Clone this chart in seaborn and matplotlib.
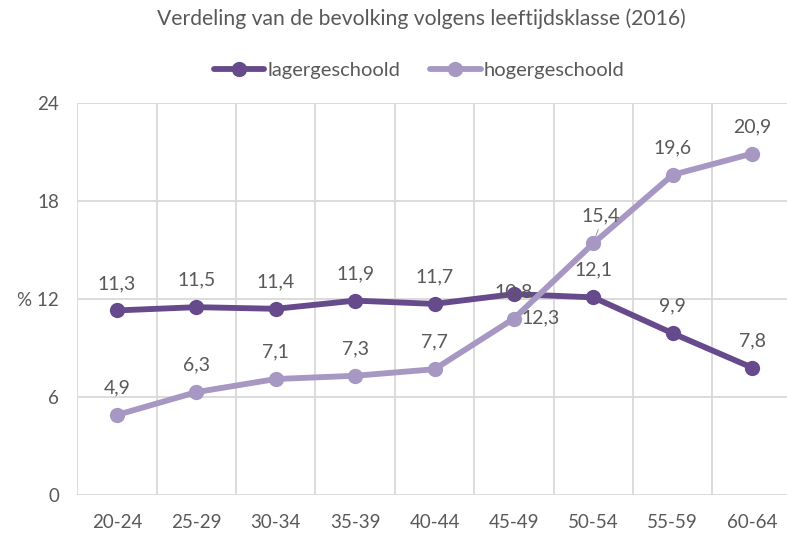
import matplotlib
matplotlib.use("Agg")
import matplotlib.pyplot as plt
import seaborn as sns
import pandas as pd
from matplotlib.lines import Line2D

categories = ["20-24", "25-29", "30-34", "35-39", "40-44", "45-49", "50-54", "55-59", "60-64"]
lager = [11.3, 11.5, 11.4, 11.9, 11.7, 12.3, 12.1, 9.9, 7.8]
hoger = [4.9, 6.3, 7.1, 7.3, 7.7, 10.8, 15.4, 19.6, 20.9]
series_names = ["lagergeschoold", "hogergeschoold"]
yticks = [0, 6, 12, 18, 24]
ytick_labels = ["0", "6", "% 12", "18", "24"]
title = "Verdeling van de bevolking volgens leeftijdsklasse (2016)"

c_lager = "#664A8C"
c_hoger = "#A797C3"
txt = "#595959"
grid = "#D9D9D9"

sns.set_theme(style="white")
plt.rcParams["font.family"] = ["Lato", "DejaVu Sans"]

df = pd.DataFrame({
    "cat": categories * 2,
    "x": list(range(len(categories))) * 2,
    "val": lager + hoger,
    "serie": [series_names[0]] * len(categories) + [series_names[1]] * len(categories),
})

W, H = 787, 536
fig = plt.figure(figsize=(W / 100, H / 100), dpi=100)
left, right, bottom, top = 77.3, 791.7, 495, 103
ax = fig.add_axes([left / W, 1 - bottom / H, (right - left) / W, (bottom - top) / H])

sns.lineplot(data=df, x="x", y="val", hue="serie", palette=[c_lager, c_hoger],
             marker="o", markersize=11, markeredgewidth=0, linewidth=4.2,
             legend=False, ax=ax, zorder=3)

ax.set_xlim(-0.5, len(categories) - 0.5)
ax.set_ylim(0, 24)
ax.set_yticks(yticks)
ax.set_yticklabels(ytick_labels)
ax.set_xticks(range(len(categories)))
ax.set_xticklabels(categories)
ax.set_xticks([i - 0.5 for i in range(len(categories) + 1)], minor=True)
ax.grid(False)
ax.yaxis.grid(True, color=grid, linewidth=1.3)
ax.xaxis.grid(True, which="minor", color=grid, linewidth=1.3)
for s in ax.spines.values():
    s.set_visible(False)
ax.tick_params(axis="both", which="both", length=0, colors=txt, labelsize=13.5)
ax.tick_params(axis="y", pad=13)
ax.tick_params(axis="x", pad=14)
ax.set_xlabel("")
ax.set_ylabel("")

LS = 14

def fmt(v):
    return f"{v:.1f}".replace(".", ",")

for i, v in enumerate(lager):
    dx, dy, ha = 0, 27, "center"
    if i == 5:
        dx, dy, ha = 8, -24, "left"
    ax.annotate(fmt(v), (i, v), xytext=(dx, dy), textcoords="offset pixels",
                ha=ha, va="center", fontsize=LS, color=txt, zorder=5)
for i, v in enumerate(hoger):
    dx, dy = 0, 27
    if i == 6:
        dx, dy = 7, 28
    ax.annotate(fmt(v), (i, v), xytext=(dx, dy), textcoords="offset pixels",
                ha="center", va="center", fontsize=LS, color=txt, zorder=5)
# leader line for 15,4
ax.annotate("", (6, hoger[6]), xytext=(5, 14), textcoords="offset pixels",
            arrowprops=dict(arrowstyle="-", color="#A6A6A6", lw=0.8, shrinkA=0, shrinkB=5))

fig.text(421 / W, 1 - 19 / H, title, ha="center", va="center", fontsize=15.2, color=txt)

handles = [Line2D([0], [0], color=c, lw=4.2, marker="o", markersize=11, markeredgewidth=0)
           for c in (c_lager, c_hoger)]
fig.legend(handles, series_names, loc="center", bbox_to_anchor=(419 / W, 1 - 70 / H),
           ncol=2, frameon=False, fontsize=14.5, labelcolor=txt, handlelength=2.5,
           columnspacing=1.5, handletextpad=0.15, numpoints=1)

fig.savefig("out.png", dpi=100)
